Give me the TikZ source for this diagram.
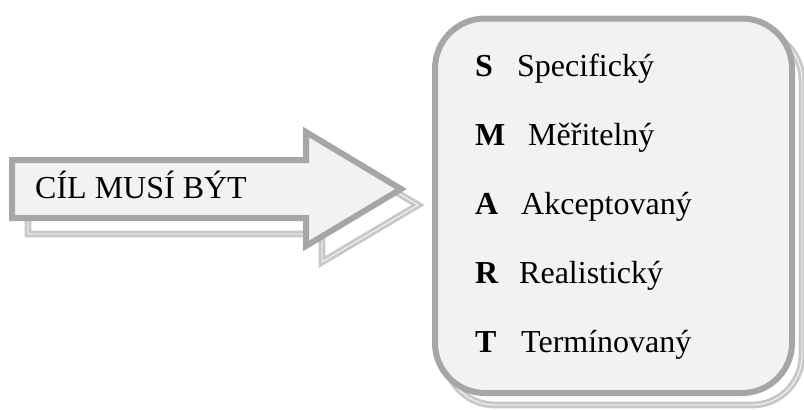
\documentclass[tikz,border=0pt]{standalone}
\usepackage{fontspec}
\setmainfont{Liberation Serif}
\definecolor{edgegray}{HTML}{A6A6A6}
\definecolor{fillgray}{HTML}{F2F2F2}
\definecolor{shadowgray}{HTML}{C8C8C8}
\tikzset{
  mainshape/.style={draw=edgegray, line width=6pt, fill=fillgray, line join=miter},
  shadowshape/.style={draw=shadowgray, line width=3pt, double=white, double distance=0.8pt, fill=white, line join=miter},
  lbl/.style={anchor=base west, inner sep=0pt, font=\fontsize{32}{36}\selectfont},
  key/.style={lbl, font=\fontsize{32}{36}\selectfont\bfseries}
}
\begin{document}
\begin{tikzpicture}[x=1pt,y=-1pt]
\useasboundingbox (0,0) rectangle (804,410);
% arrow shadow
\draw[shadowshape, shift={(16,16)}] (12,160) -- (306,160) -- (306,132) -- (402,189) -- (306,246) -- (306,218) -- (12,218) -- cycle;
% arrow
\draw[mainshape] (12,160) -- (306,160) -- (306,132) -- (401,189) -- (306,246) -- (306,218) -- (12,218) -- cycle;
\node[lbl] (goal) at (35,198) {CÍL MUSÍ BÝT};
% box shadow
\draw[shadowshape, rounded corners=50pt, shift={(10,12)}] (435,18.5) rectangle (792,393);
% box
\draw[mainshape, rounded corners=50pt] (435,18.5) rectangle (792,393);
% rows
\node[key] (kS) at (475,76) {S};
\node[lbl] (wS) at (517,76) {Specifický};
\node[key] (kM) at (475,145) {M};
\node[lbl] (wM) at (528,145) {Měřitelný};
\node[key] (kA) at (475,214) {A};
\node[lbl] (wA) at (521,214) {Akceptovaný};
\node[key] (kR) at (475,283) {R};
\node[lbl] (wR) at (519,283) {Realistický};
\node[key] (kT) at (475,352) {T};
\node[lbl] (wT) at (521,352) {Termínovaný};
\end{tikzpicture}
\end{document}
